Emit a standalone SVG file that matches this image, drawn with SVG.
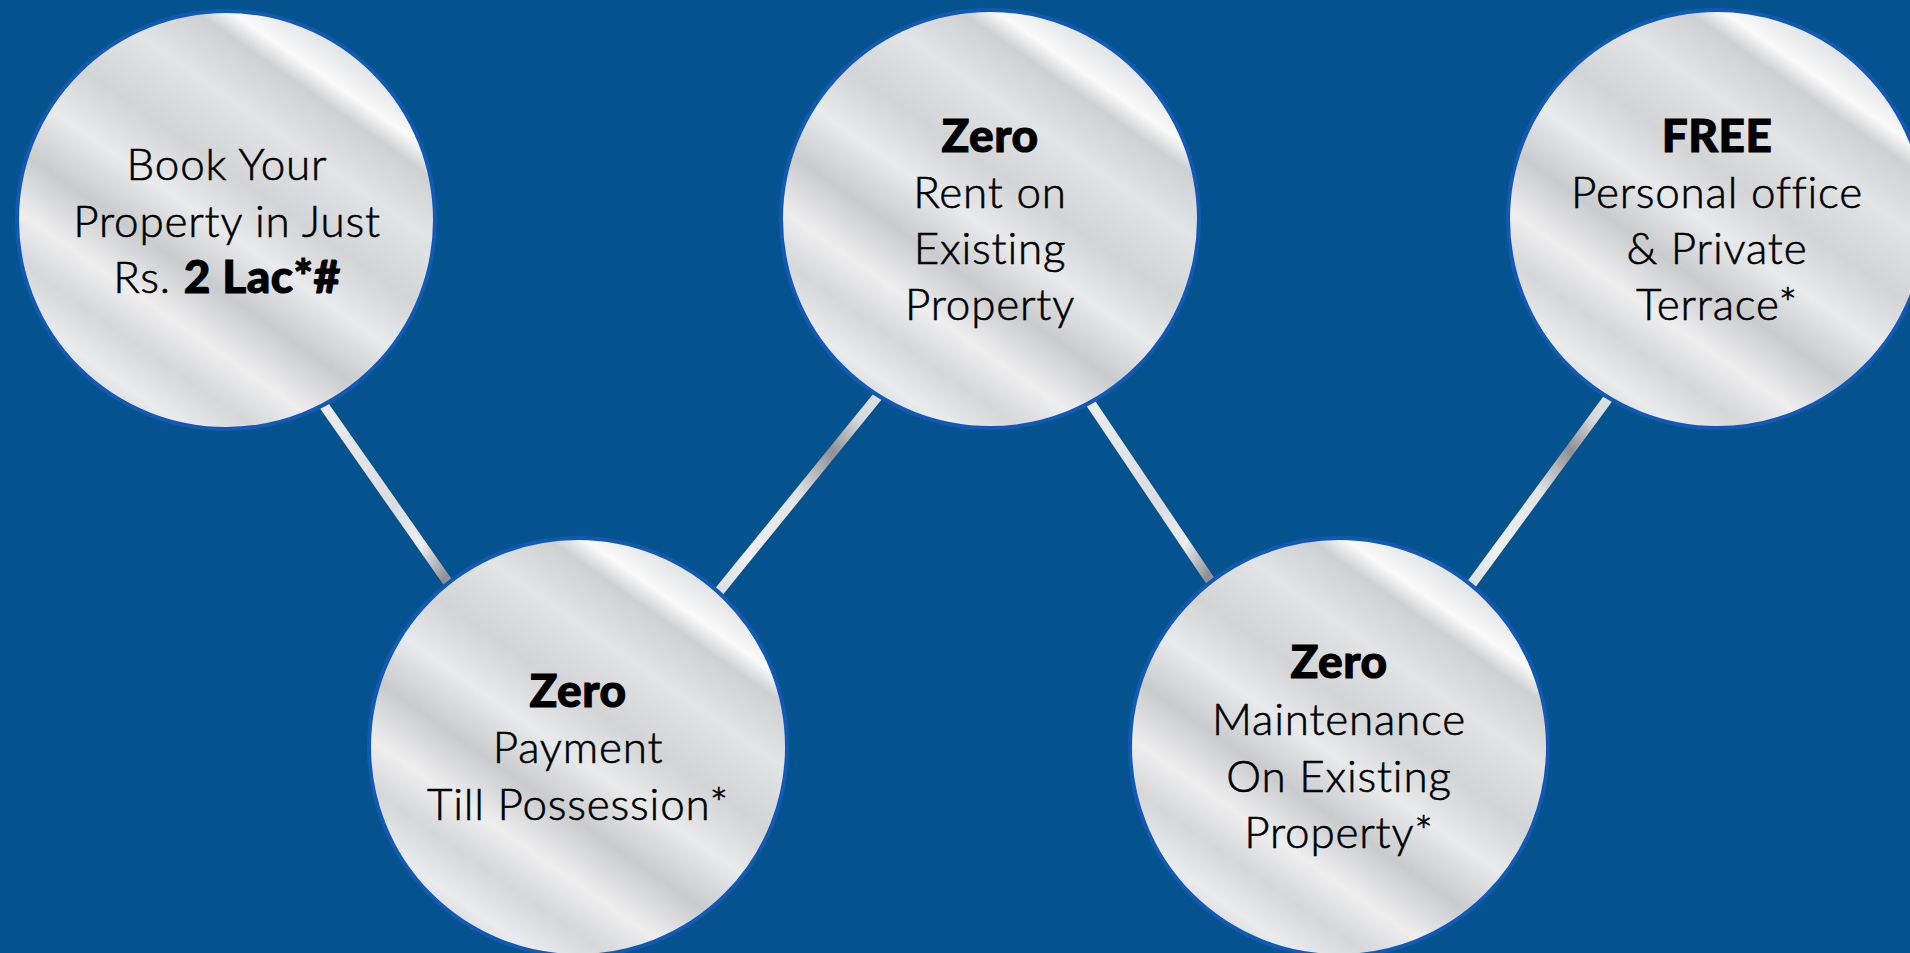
<svg xmlns="http://www.w3.org/2000/svg" width="1910" height="953" viewBox="0 0 1910 953">
  <defs>
    <linearGradient id="silver" x1="0.85" y1="0" x2="0.15" y2="1">
      <stop offset="0" stop-color="#c9cacc"/>
      <stop offset="0.1" stop-color="#e4e5e7"/>
      <stop offset="0.16" stop-color="#fafafa"/>
      <stop offset="0.2" stop-color="#cfd0d2"/>
      <stop offset="0.3" stop-color="#e3e4e6"/>
      <stop offset="0.42" stop-color="#d3d4d6"/>
      <stop offset="0.52" stop-color="#e9eaec"/>
      <stop offset="0.62" stop-color="#cacbcd"/>
      <stop offset="0.72" stop-color="#eeeeef"/>
      <stop offset="0.8" stop-color="#d6d7d9"/>
      <stop offset="0.88" stop-color="#eaebec"/>
      <stop offset="1" stop-color="#bdbec0"/>
    </linearGradient>
    <linearGradient id="barDown" x1="0" y1="0" x2="1" y2="1">
      <stop offset="0" stop-color="#f0f0f1"/>
      <stop offset="0.55" stop-color="#dcdde0"/>
      <stop offset="0.72" stop-color="#eeeeef"/>
      <stop offset="0.86" stop-color="#8f9093"/>
      <stop offset="1" stop-color="#c4c5c7"/>
    </linearGradient>
    <linearGradient id="barUp" x1="1" y1="0" x2="0" y2="1">
      <stop offset="0" stop-color="#e6e7e9"/>
      <stop offset="0.2" stop-color="#d8d9db"/>
      <stop offset="0.33" stop-color="#8f9093"/>
      <stop offset="0.5" stop-color="#e2e3e5"/>
      <stop offset="0.75" stop-color="#f0f0f1"/>
      <stop offset="1" stop-color="#cfd0d2"/>
    </linearGradient>
  </defs>
  <style>
    .node circle { fill: url(#silver); stroke: #1159b3; stroke-width: 4; }
    .t { font-family: "Lato", "Liberation Sans", sans-serif; font-size: 44px; font-weight: 300; letter-spacing: 0.8px; fill: #000; stroke: #000; stroke-width: 0.6px; text-anchor: middle; }
    .b { font-weight: 900; font-size: 46px; letter-spacing: 0.5px; stroke-width: 1px; }
    .bar { stroke-width: 10; stroke-linecap: butt; fill: none; }
  </style>
  <rect width="1910" height="953" fill="#04538f"/>
  <g id="connectors">
    <line class="bar" x1="304" y1="377" x2="468" y2="611" stroke="url(#barDown)"/>
    <line class="bar" x1="900" y1="369" x2="695" y2="621" stroke="url(#barUp)"/>
    <line class="bar" x1="1071" y1="374" x2="1230" y2="610" stroke="url(#barDown)"/>
    <line class="bar" x1="1629" y1="370" x2="1451" y2="612" stroke="url(#barUp)"/>
  </g>
  <g id="node-book" class="node">
    <circle cx="226" cy="220" r="209"/>
    <text class="t" x="227" y="180">Book Your</text>
    <text class="t" x="227" y="237">Property in Just</text>
    <text class="t" x="227" y="293">Rs. <tspan class="b">2 Lac*#</tspan></text>
  </g>
  <g id="node-rent" class="node">
    <circle cx="990" cy="219" r="209"/>
    <text class="t b" x="990" y="152">Zero</text>
    <text class="t" x="990" y="208">Rent on</text>
    <text class="t" x="990" y="264">Existing</text>
    <text class="t" x="990" y="320">Property</text>
  </g>
  <g id="node-free" class="node">
    <circle cx="1717" cy="219" r="209"/>
    <text class="t b" x="1717" y="152">FREE</text>
    <text class="t" x="1717" y="208">Personal office</text>
    <text class="t" x="1717" y="264">&amp; Private</text>
    <text class="t" x="1717" y="320">Terrace*</text>
  </g>
  <g id="node-payment" class="node">
    <circle cx="578" cy="747" r="209"/>
    <text class="t b" x="578" y="707">Zero</text>
    <text class="t" x="578" y="763">Payment</text>
    <text class="t" x="578" y="820">Till Possession*</text>
  </g>
  <g id="node-maintenance" class="node">
    <circle cx="1339" cy="747" r="209"/>
    <text class="t b" x="1339" y="678">Zero</text>
    <text class="t" x="1339" y="735">Maintenance</text>
    <text class="t" x="1339" y="792">On Existing</text>
    <text class="t" x="1339" y="848">Property*</text>
  </g>
</svg>
